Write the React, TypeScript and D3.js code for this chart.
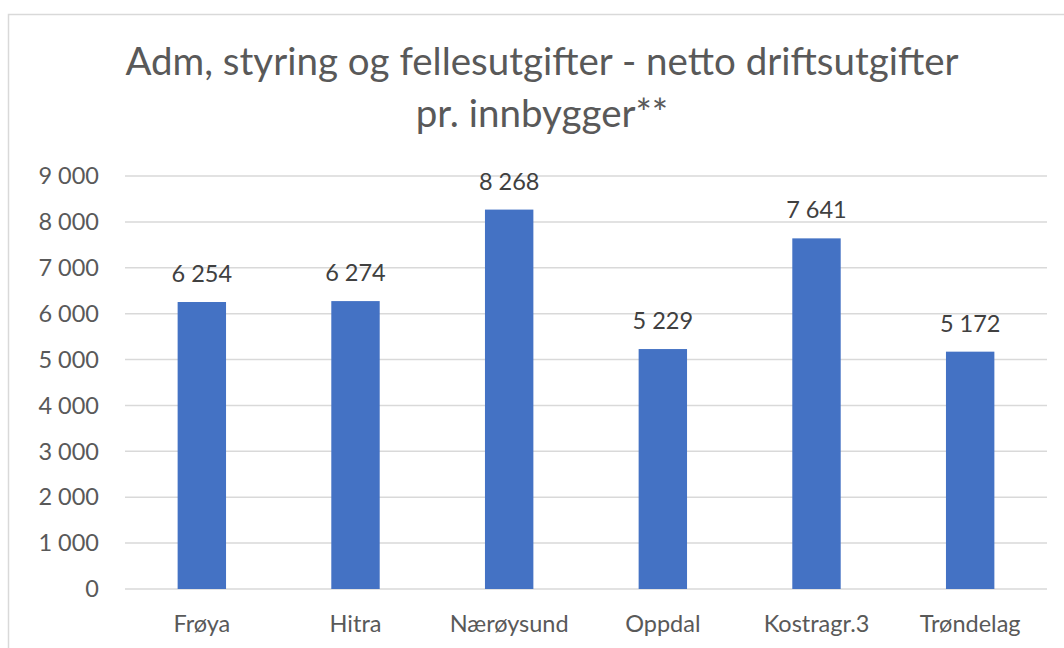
import React from 'react'
import * as d3 from 'd3'

const categories = ['Frøya', 'Hitra', 'Nærøysund', 'Oppdal', 'Kostragr.3', 'Trøndelag']
const values = [6254, 6274, 8268, 5229, 7641, 5172]
const yTicks = [0, 1000, 2000, 3000, 4000, 5000, 6000, 7000, 8000, 9000]
const titleLines = ['Adm, styring og fellesutgifter - netto driftsutgifter', 'pr. innbygger**']

const fmt = (v: number) => d3.format(',')(v).replace(/,/g, ' ')

export default function App() {
    const width = 1064
    const height = 648
    const margin = { left: 125, right: 17, top: 176, bottom: 59 }
    const font = 'Lato, Calibri, sans-serif'

    const x = d3.scaleBand<string>()
        .domain(categories)
        .range([margin.left, width - margin.right])
        .paddingInner(0.685)
        .paddingOuter(0.3425)

    const y = d3.scaleLinear()
        .domain([0, 9000])
        .range([height - margin.bottom, margin.top])

    return (
        <svg width={width} height={height} style={{ position: 'absolute', left: 0, top: 0, background: '#fff' }}>
            <rect x={8.5} y={14.5} width={1100} height={700} fill='#fff' stroke='#d9d9d9' strokeWidth={1.5} />

            {titleLines.map((t, i) => (
                <text key={i} x={542} y={75 + i * 52} textAnchor='middle' fontFamily={font}
                    fontSize={38.5} fill='#595959'>{t}</text>
            ))}

            {/* gridlines */}
            {yTicks.map(t => (
                <line key={t} x1={margin.left} x2={width - margin.right} y1={y(t)} y2={y(t)}
                    stroke='#d9d9d9' strokeWidth={1.5} />
            ))}

            {/* y tick labels */}
            {yTicks.map(t => (
                <text key={'l' + t} x={99} y={y(t)} dy='0.35em' textAnchor='end' fontFamily={font}
                    fontSize={23.5} fill='#595959'>{fmt(t)}</text>
            ))}

            {/* bars */}
            {categories.map((c, i) => (
                <rect key={c} x={x(c)} y={y(values[i])} width={x.bandwidth()}
                    height={y(0) - y(values[i])} fill='#4472c4' />
            ))}

            {/* data labels */}
            {categories.map((c, i) => (
                <text key={'v' + c} x={(x(c) ?? 0) + x.bandwidth() / 2} y={y(values[i]) - 20}
                    textAnchor='middle' fontFamily={font} fontSize={23.5} fill='#404040'>{fmt(values[i])}</text>
            ))}

            {/* category labels */}
            {categories.map(c => (
                <text key={'c' + c} x={(x(c) ?? 0) + x.bandwidth() / 2} y={632}
                    textAnchor='middle' fontFamily={font} fontSize={23.5} fill='#595959'>{c}</text>
            ))}
        </svg>
    )
}
